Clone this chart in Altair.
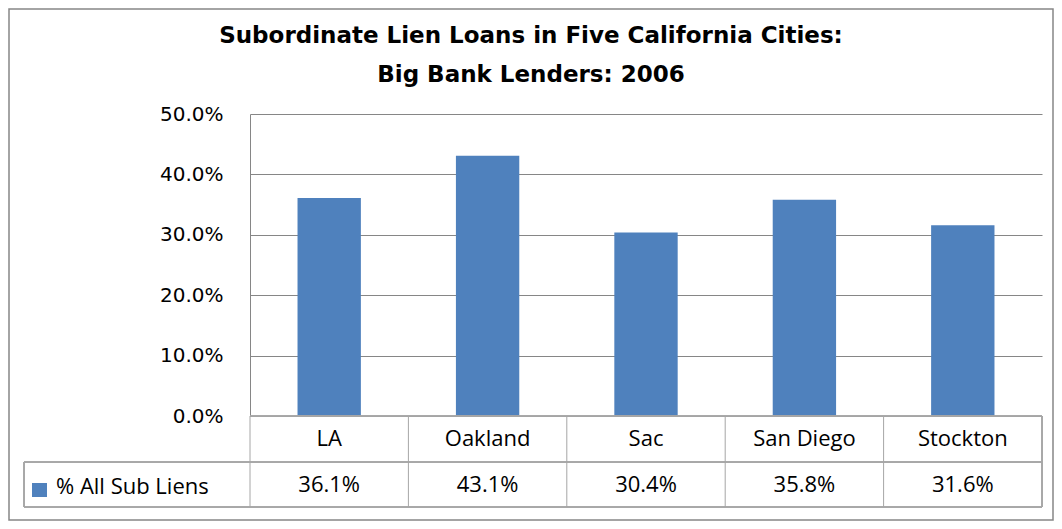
import altair as alt
import pandas as pd

cities = ["LA", "Oakland", "Sac", "San Diego", "Stockton"]
shares = [0.361, 0.431, 0.304, 0.358, 0.316]
y_ticks = [0.0, 0.1, 0.2, 0.3, 0.4, 0.5]
title_lines = ["Subordinate Lien Loans in Five California Cities:", "Big Bank Lenders: 2006"]
series_name = "% All Sub Liens"

BAR = "#4F81BD"
GRID = "#868686"
TABLE = "#A6A6A6"
W, H = 792, 302

df = pd.DataFrame({"city": cities, "share": shares})
df["label"] = [f"{v*100:.1f}%" for v in shares]

xenc = alt.X("city:N", sort=cities, axis=None,
             scale=alt.Scale(paddingInner=0, paddingOuter=0))

bars = alt.Chart(df).mark_bar(color=BAR, width={"band": 0.4}).encode(
    x=xenc,
    y=alt.Y("share:Q", scale=alt.Scale(domain=[0, 0.5]),
            axis=alt.Axis(values=y_ticks, format=".1%", title=None, ticks=False,
                          labelPadding=27, labelFontSize=20, labelFont="DejaVu Sans",
                          labelFontWeight="normal",
                          labelColor="#000000", domainColor=GRID, gridColor=GRID,
                          grid=True)),
)

cat_text = alt.Chart(df).mark_text(font="Open Sans", fontSize=22,
                                   baseline="middle", color="#000000").encode(
    x=xenc, y=alt.value(325), text="city:N")

val_text = alt.Chart(df).mark_text(font="Open Sans", fontSize=22,
                                   baseline="middle", color="#000000").encode(
    x=xenc, y=alt.value(371), text="label:N")

# table grid lines
vlines = alt.Chart(df).mark_rule(color=TABLE, strokeWidth=1).encode(
    x=alt.X("city:N", sort=cities, bandPosition=0, axis=None,
            scale=alt.Scale(paddingInner=0, paddingOuter=0)),
    y=alt.value(H), y2=alt.value(393))
vright = alt.Chart(df).mark_rule(color=TABLE).encode(
    x=alt.value(W), y=alt.value(H), y2=alt.value(393))
vleft = alt.Chart(df).mark_rule(color=TABLE).encode(
    x=alt.value(-226), y=alt.value(348), y2=alt.value(393))
hline1 = alt.Chart(df).mark_rule(color=TABLE).encode(
    x=alt.value(-226), x2=alt.value(W), y=alt.value(348))
hline2 = alt.Chart(df).mark_rule(color=TABLE).encode(
    x=alt.value(-226), x2=alt.value(W), y=alt.value(393))
hline0 = alt.Chart(df).mark_rule(color=TABLE).encode(
    x=alt.value(0), x2=alt.value(W), y=alt.value(H))

# legend key in table
leg_df = pd.DataFrame({"name": [series_name]})
leg_sq = alt.Chart(leg_df).mark_rect(color=BAR).encode(
    x=alt.value(-218), x2=alt.value(-203), y=alt.value(369), y2=alt.value(383))
leg_txt = alt.Chart(leg_df).mark_text(font="Open Sans", fontSize=22,
                                      align="left", baseline="middle", color="#000000").encode(
    x=alt.value(-194), y=alt.value(373), text="name:N")

# title
t_df = pd.DataFrame({"t": title_lines, "row": [0, 1]})
title1 = alt.Chart(t_df.iloc[[0]]).mark_text(font="DejaVu Sans", fontSize=23, fontWeight="bold",
                                             align="center",
                                             baseline="middle", color="#000000").encode(
    x=alt.value(281), y=alt.value(-78), text="t:N")
title2 = alt.Chart(t_df.iloc[[1]]).mark_text(font="DejaVu Sans", fontSize=23, fontWeight="bold",
                                             align="center",
                                             baseline="middle", color="#000000").encode(
    x=alt.value(281), y=alt.value(-39), text="t:N")

border = alt.Chart(leg_df).mark_rect(fill=None, stroke=GRID, strokeWidth=1.5).encode(
    x=alt.value(-241), x2=alt.value(803), y=alt.value(-105), y2=alt.value(406))

chart = alt.layer(
    bars, hline0, hline1, hline2, vlines, vright, vleft,
    cat_text, val_text, leg_sq, leg_txt, title1, title2, border
).properties(
    width=W, height=H,
    autosize=alt.AutoSizeParams(type="none"),
    padding={"left": 242, "top": 106, "right": 12, "bottom": 105},
    background="white",
).configure_view(stroke=None)

chart.save("out.html", embed_options={"renderer": "svg", "actions": False})
